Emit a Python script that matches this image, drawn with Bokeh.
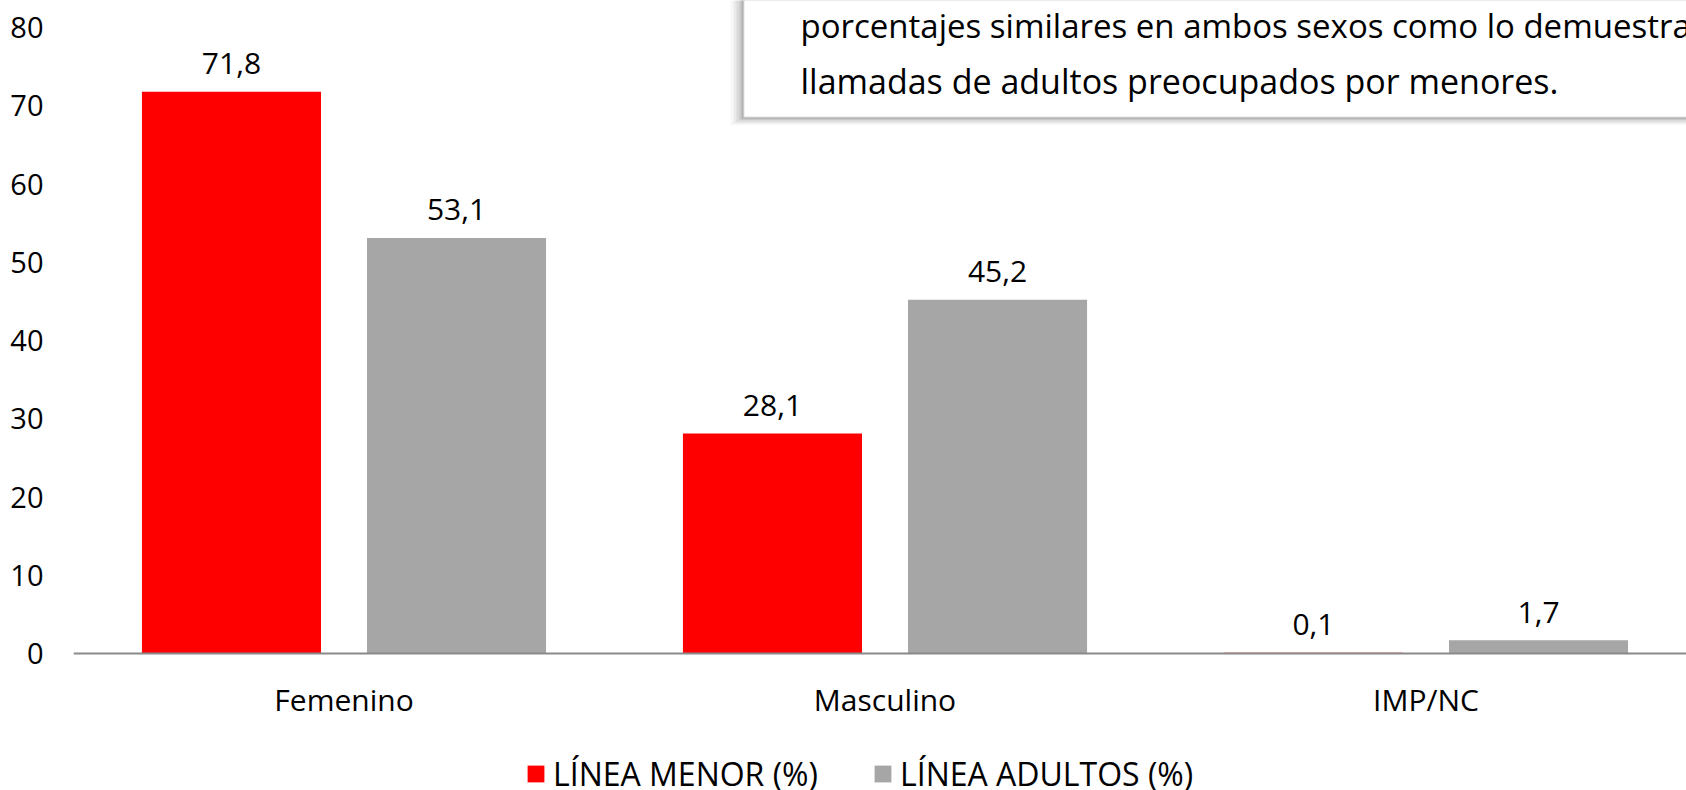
from bokeh.plotting import figure
from bokeh.models import (Range1d, FixedTicker, ColumnDataSource, Legend, LegendItem,
                          BoxAnnotation, Label)
from bokeh.core.properties import value
from bokeh.embed import file_html
from bokeh.resources import INLINE

# ---------------- data ----------------
categories = ["Femenino", "Masculino", "IMP/NC"]
linea_menor = [71.8, 28.1, 0.1]
linea_adultos = [53.1, 45.2, 1.7]
series_names = ["LÍNEA MENOR (%)", "LÍNEA ADULTOS (%)"]
y_ticks = [0, 10, 20, 30, 40, 50, 60, 70, 80]
note_lines = ["porcentajes similares en ambos sexos como lo demuestra",
              "llamadas de adultos preocupados por menores."]

# ---------------- style ----------------
RED = "#FF0000"
GRAY = "#A6A6A6"
AXIS = "#898989"
TXT = "#000000"
FONT = "Open Sans"

W, H = 1686, 790
BORDER_LEFT = 73
ZERO_Y = 653            # pixel row of the value axis zero line
frame_w = W - BORDER_LEFT
CAT_PX = 541.0          # pixels per category
PX_PER_UNIT = 7.825     # pixels per y unit
x_end = frame_w / CAT_PX
y_end = ZERO_Y / PX_PER_UNIT
y_start = -(H - ZERO_Y) / PX_PER_UNIT
BAR_W = 0.331
OFF = 0.208

def px_x(page_x):  # page pixel -> data x
    return (page_x - BORDER_LEFT) / CAT_PX

def px_y(page_y):  # page pixel -> data y
    return (ZERO_Y - page_y) / PX_PER_UNIT

centers = [i + 0.5 for i in range(len(categories))]

p = figure(width=W, height=H, output_backend="svg", toolbar_location=None,
           x_range=Range1d(0, x_end), y_range=Range1d(y_start, y_end),
           min_border_left=BORDER_LEFT, min_border_right=0,
           min_border_top=0, min_border_bottom=0)
p.outline_line_color = None
p.xgrid.grid_line_color = None
p.ygrid.grid_line_color = None
p.background_fill_color = "white"
p.border_fill_color = "white"

src_red = ColumnDataSource(dict(x=[c - OFF for c in centers], top=linea_menor,
                                label=[f"{v:.1f}".replace(".", ",") for v in linea_menor]))
src_gray = ColumnDataSource(dict(x=[c + OFF for c in centers], top=linea_adultos,
                                 label=[f"{v:.1f}".replace(".", ",") for v in linea_adultos]))

r_red = p.vbar(x="x", top="top", width=BAR_W, bottom=0, source=src_red,
               fill_color=RED, line_color=None)
r_gray = p.vbar(x="x", top="top", width=BAR_W, bottom=0, source=src_gray,
                fill_color=GRAY, line_color=None)

for src in (src_red, src_gray):
    p.text(x="x", y="top", text="label", source=src, text_align="center",
           text_baseline="alphabetic", y_offset=-28, text_font=value(FONT),
           text_font_size="30px", text_color=TXT)

# axes
p.yaxis.ticker = FixedTicker(ticks=y_ticks)
p.yaxis.axis_line_color = None
p.yaxis.major_tick_line_color = None
p.yaxis.minor_tick_line_color = None
p.yaxis.major_label_standoff = 24
p.yaxis.major_label_text_font = FONT
p.yaxis.major_label_text_font_size = "29px"
p.yaxis.major_label_text_color = TXT

p.xaxis.fixed_location = 0
p.xaxis.ticker = FixedTicker(ticks=centers)
p.xaxis.major_label_overrides = {c: n for c, n in zip(centers, categories)}
p.xaxis.axis_line_color = AXIS
p.xaxis.axis_line_width = 2
p.xaxis.major_tick_line_color = None
p.xaxis.minor_tick_line_color = None
p.xaxis.major_label_standoff = 19
p.xaxis.major_label_text_font = FONT
p.xaxis.major_label_text_font_size = "30px"
p.xaxis.major_label_text_color = TXT

# legend (inside the frame, below the category labels)
legend = Legend(items=[LegendItem(label=series_names[0], renderers=[r_red]),
                       LegendItem(label=series_names[1], renderers=[r_gray])],
                orientation="horizontal", location=(452, -5),
                glyph_width=21, glyph_height=21, label_standoff=7, spacing=54,
                padding=0, margin=0, border_line_color=None,
                background_fill_alpha=0, label_text_font=FONT,
                label_text_font_size="32px", label_text_color=TXT)
p.add_layout(legend)

# note box (shadow + box) in the upper right
for k, a in [(13, 0.06), (10, 0.09), (7, 0.12), (4, 0.16), (2, 0.2)]:
    p.add_layout(BoxAnnotation(left=px_x(743 - k), right=10, bottom=px_y(117 + k * 0.6),
                               top=200, fill_color="#6f6f6f", fill_alpha=a,
                               line_color=None))
p.add_layout(BoxAnnotation(left=px_x(743), right=10, bottom=px_y(117), top=200,
                           fill_color="white", fill_alpha=1.0,
                           line_color="#9a9a9a", line_width=2))
for txt, base, fs in zip(note_lines, [25, 80], ["33px", "34px"]):
    p.add_layout(Label(x=px_x(800), y=px_y(base), text=txt, text_font=FONT,
                       text_font_size=fs, text_color=TXT,
                       text_baseline="alphabetic", text_align="left"))

open("out.html", "w").write(file_html(p, INLINE))
